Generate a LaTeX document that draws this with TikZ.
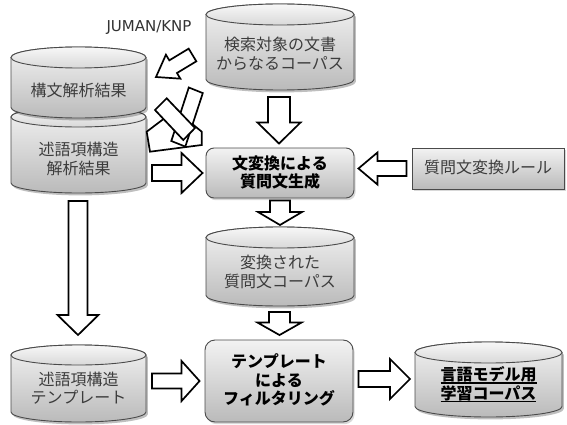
\documentclass[tikz,border=0pt]{standalone}
\usepackage{fontspec}
\setmainfont{Noto Sans CJK JP}
\newfontfamily\latinsans{DejaVu Sans}
\usetikzlibrary{calc,shadows}
\definecolor{edgec}{HTML}{4A4A4A}
\definecolor{txtc}{HTML}{3C3C3C}
\tikzset{
  barrow/.style={draw=black, fill=white, line width=1.7pt, line join=miter},
  cylnode/.style={inner sep=0pt, outer sep=0pt},
  ctext/.style={align=center, text=txtc, font=\fontsize{16}{18.5}\selectfont, inner sep=0pt},
  btext/.style={align=center, text=black, font=\bfseries\fontsize{16}{18.5}\selectfont, inner sep=0pt},
  cylbody/.style={draw=edgec, line width=0.9pt, top color=black!5, bottom color=black!27},
  cyltop/.style={draw=edgec, line width=0.9pt, top color=black!3, bottom color=black!15},
  gbox/.style={draw=edgec, line width=0.9pt, top color=black!5, bottom color=black!27, align=center,
     inner sep=0pt, drop shadow={opacity=0.3, shadow xshift=1.6pt, shadow yshift=-2.2pt}},
}
\newcommand\myul[1]{\setbox0\hbox{#1}\rlap{\rule[-3pt]{\wd0}{1.3pt}}\box0}
% name, x1, x2, top, bottom, ry, textY, text
\newcommand\cyl[8]{%
  \pgfmathsetmacro\cylcx{(#2+#3)/2}%
  \pgfmathsetmacro\cylrx{(#3-#2)/2}%
  \pgfmathsetmacro\cylcy{(#4+#5)/2}%
  \pgfmathsetmacro\cylhh{#5-#4}%
  \pgfmathsetmacro\cylww{#3-#2}%
  \begin{scope}[shift={(1.8,2.4)}]
    \fill[black, opacity=0.25] (#2,#4+#6) -- (#2,#5-#6) arc[start angle=180,end angle=0,x radius=\cylrx,y radius=#6] -- (#3,#4+#6) arc[start angle=0,end angle=-180,x radius=\cylrx,y radius=#6] -- cycle;
  \end{scope}
  \path[cylbody] (#2,#4+#6) -- (#2,#5-#6) arc[start angle=180,end angle=0,x radius=\cylrx,y radius=#6] -- (#3,#4+#6) arc[start angle=0,end angle=-180,x radius=\cylrx,y radius=#6] -- cycle;
  \path[cyltop] (\cylcx,#4+#6) ellipse[x radius=\cylrx, y radius=#6];
  \node[cylnode, minimum width=\cylww pt, minimum height=\cylhh pt] (#1) at (\cylcx,\cylcy) {};
  \node[ctext] (#1-t) at (\cylcx,#7) {#8};
}
% from, to, shaft half width, head half width, head length
\newcommand\blockarrow[5]{%
  \coordinate (bac) at ($(#2)!#5!(#1)$);
  \draw[barrow] ($(#1)!#3!90:(#2)$) -- ($(bac)!#3!90:(#2)$) -- ($(bac)!#4!90:(#2)$) -- (#2)
     -- ($(bac)!#4!-90:(#2)$) -- ($(bac)!#3!-90:(#2)$) -- ($(#1)!#3!-90:(#2)$) -- cycle;
}
\begin{document}
\begin{tikzpicture}[x=1pt,y=-1pt]
\useasboundingbox (0,0) rectangle (567,425);
\fill[white] (0,0) rectangle (567,425);

% cylinders
\cyl{pas}{11}{146}{107}{193}{10}{159}{述語項構造\\解析結果}
\cyl{syn}{11}{146}{47}{118}{10.5}{90}{構文解析結果}
\cyl{src}{206}{354}{4}{90}{10.5}{54}{検索対象の文書\\からなるコーパス}
\cyl{qc}{206}{354}{227}{306}{10.5}{272}{変換された\\質問文コーパス}
\cyl{tpl}{11}{146}{345}{422}{10}{388}{述語項構造\\テンプレート}
\cyl{lm}{415}{562}{342}{417}{10.5}{384.5}{\bfseries\color{black}\myul{言語モデル用}\\\bfseries\color{black}\myul{学習コーパス}}

% boxes
\node[gbox, rounded corners=8pt, minimum width=148pt, minimum height=50pt] (gen) at (280,173) {};
\node[btext] (gen-t) at (280,172.5) {文変換による\\質問文生成};
\node[gbox, minimum width=152pt, minimum height=41pt] (rule) at (488,168.5) {};
\node[ctext] (rule-t) at (488,167) {質問文変換ルール};
\node[gbox, rounded corners=10pt, minimum width=148pt, minimum height=82pt] (filt) at (279,381) {};
\node[btext] (filt-t) at (279,380) {テンプレート\\による\\フィルタリング};

% label
\node[font=\latinsans\fontsize{15}{18}\selectfont, text=black!80, inner sep=0pt] (juman) at (149,28) {JUMAN/KNP};

% arrow end points
\coordinate (a1s) at ($(src.south)+(-1,7)$);
\coordinate (a1e) at ($(gen.north)+(-1,-4)$);
\coordinate (a2s) at ($(gen.south)+(0,2)$);
\coordinate (a2e) at ($(qc.north)+(0,-2)$);
\coordinate (a3s) at ($(qc.south)+(-0.5,6)$);
\coordinate (a3e) at ($(filt.north)+(0.5,-4.5)$);
\coordinate (a4s) at ($(pas.east |- gen.west)+(6,0)$);
\coordinate (a4e) at ($(gen.west)+(-3,0)$);
\coordinate (a5s) at ($(rule.west)+(-5,0)$);
\coordinate (a5e) at ($(gen.east |- rule.west)+(4,0)$);
\coordinate (a6s) at ($(pas.south)+(-0.5,8)$);
\coordinate (a6e) at ($(tpl.north)+(-0.5,-10)$);
\coordinate (a7s) at ($(tpl.east |- filt.west)+(6,0)$);
\coordinate (a7e) at ($(filt.west)+(-5,0)$);
\coordinate (a8s) at ($(filt.east)+(5,-2)$);
\coordinate (a8e) at ($(lm.west |- filt.east)+(-5,-2)$);
\coordinate (j1) at (192.5,55);
\coordinate (j1e) at ($(syn.east)+(10,-5.5)$);

\blockarrow{a1s}{a1e}{11pt}{21.5pt}{21pt}
\blockarrow{a2s}{a2e}{10pt}{22pt}{13pt}
\blockarrow{a3s}{a3e}{10.5pt}{22pt}{12.5pt}
\blockarrow{a4s}{a4e}{8pt}{20pt}{21pt}
\blockarrow{a5s}{a5e}{7.5pt}{16pt}{19pt}
\blockarrow{a6s}{a6e}{9.5pt}{20.5pt}{20pt}
\blockarrow{a7s}{a7e}{7.5pt}{20pt}{18pt}
\blockarrow{a8s}{a8e}{8pt}{20pt}{20pt}
\blockarrow{j1}{j1e}{7.4pt}{14pt}{20pt}

% second JUMAN/KNP arrow (overlapping pieces as printed)
\draw[barrow] (146.7,131.7) -- (150,151.7) -- (201.7,145) -- (201.7,131.7) -- (185,118) -- (163.5,119) -- cycle;
\draw[barrow] (188.8,87.5) -- (202.8,93.1) -- (185.3,146.6) -- (171.3,141) -- cycle;
\draw[barrow] (155,110) -- (166.7,98.3) -- (195,128) -- (183.3,140) -- cycle;
\end{tikzpicture}
\end{document}
